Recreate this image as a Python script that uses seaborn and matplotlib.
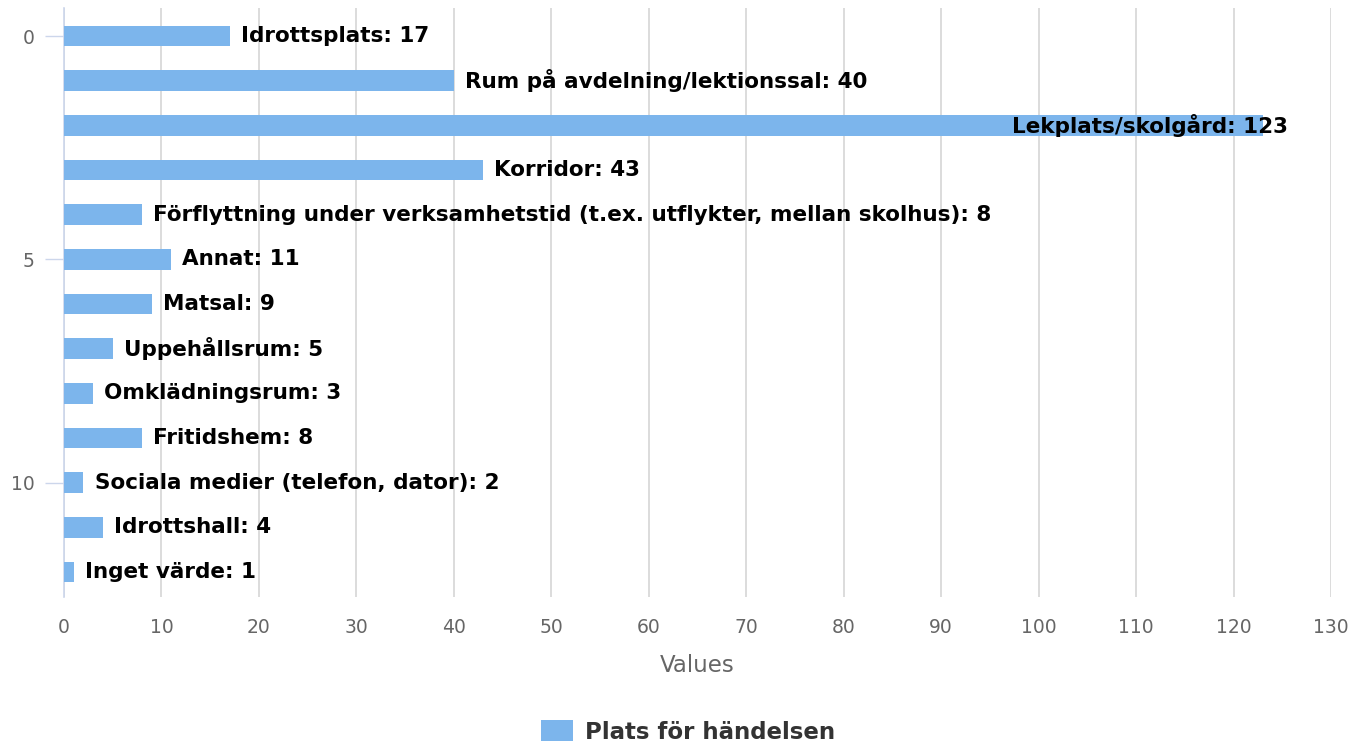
import matplotlib.pyplot as plt
import seaborn as sns
import pandas as pd
from matplotlib.patches import Patch

# Data
categories = [
    "Idrottsplats", "Rum på avdelning/lektionssal", "Lekplats/skolgård", "Korridor",
    "Förflyttning under verksamhetstid (t.ex. utflykter, mellan skolhus)", "Annat",
    "Matsal", "Uppehållsrum", "Omklädningsrum", "Fritidshem",
    "Sociala medier (telefon, dator)", "Idrottshall", "Inget värde",
]
counts = [17, 40, 123, 43, 8, 11, 9, 5, 3, 8, 2, 4, 1]
series_name = "Plats för händelsen"
x_ticks = list(range(0, 131, 10))
y_ticks = [0, 5, 10]

bar_color = "#7cb5ec"

sns.set_style("white")
plt.rcParams['font.family'] = ['DejaVu Sans']

df = pd.DataFrame({"pos": range(len(categories)), "value": counts, "label": categories})

fig = plt.figure(figsize=(13.49, 7.49), dpi=100)
ax = fig.add_axes([64 / 1349, 1 - 597 / 749, (1331 - 64) / 1349, (597 - 8) / 749])

# Draw bars with seaborn, numeric y positions so the axis shows 0/5/10
sns.barplot(data=df, x="value", y="pos", orient="h", native_scale=True,
            color=bar_color, width=0.46, saturation=1, linewidth=0, ax=ax, zorder=3)

ax.set_xlim(0, 130)
ax.set_ylim(12.56, -0.627)
ax.set_xticks(x_ticks)
ax.set_yticks(y_ticks)
ax.tick_params(axis="x", length=0, labelsize=13.5, labelcolor="#666666", pad=15)
ax.tick_params(axis="y", length=14, width=1, color="#ccd6eb", labelsize=13.5,
               labelcolor="#666666", pad=7, left=True)
ax.grid(axis="x", color="#dcdcdc", linewidth=1.4, zorder=0)
ax.grid(axis="y", visible=False)
for side in ["top", "right", "bottom"]:
    ax.spines[side].set_visible(False)
ax.spines["left"].set_color("#ccd6eb")
ax.spines["left"].set_linewidth(1.2)
ax.set_ylabel("")
ax.set_xlabel("Values", fontsize=16.5, color="#666666", labelpad=12)

# Data labels: outside the bar, pulled inside if it would overflow
for pos, val, name in zip(df["pos"], df["value"], df["label"]):
    text = f"{name}: {val}"
    if val > 100:
        ax.annotate(text, (val, pos), xytext=(18, 0), textcoords="offset points",
                    ha="right", va="center", fontsize=15.5, fontweight="bold",
                    fontfamily="DejaVu Sans", color="black", zorder=5)
    else:
        ax.annotate(text, (val, pos), xytext=(8, 0), textcoords="offset points",
                    ha="left", va="center", fontsize=15.5, fontweight="bold",
                    fontfamily="DejaVu Sans", color="black", zorder=5)

handle = Patch(facecolor=bar_color, edgecolor="none", label=series_name)
fig.legend(handles=[handle], loc="center", bbox_to_anchor=(0.51, 1 - 732 / 749),
           frameon=False, prop={"weight": "bold", "size": 16.5, "family": "DejaVu Sans"},
           handlelength=1.4, handleheight=1.0, handletextpad=0.5, labelcolor="#333333")

fig.savefig("out.png", dpi=100)
